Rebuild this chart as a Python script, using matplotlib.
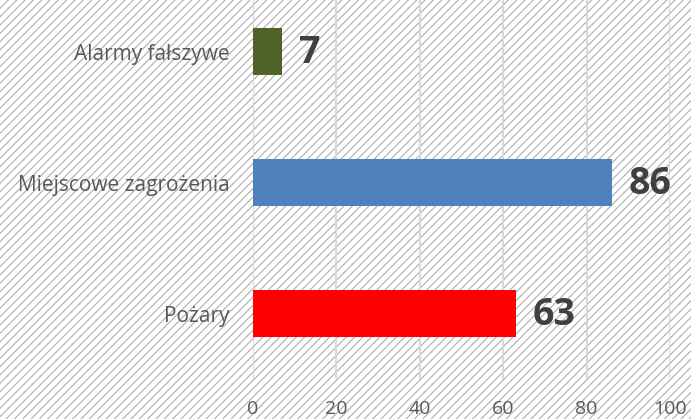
import matplotlib.pyplot as plt
from matplotlib.patches import Rectangle

plt.rcParams.update({
    "font.family": ["Open Sans", "DejaVu Sans"],
    "hatch.linewidth": 0.75,
})

# data
categories = ["Pożary", "Miejscowe zagrożenia", "Alarmy fałszywe"]
values = [63, 86, 7]
colors = ["#FF0000", "#4F81BD", "#4F6228"]
xticks = [0, 20, 40, 60, 80, 100]

text_c = "#595959"
grid_c = "#d9d9d9"

fig = plt.figure(figsize=(6.91, 4.19), dpi=100)

# hatched background over the whole picture
bg = Rectangle((0, 0), 1, 1, transform=fig.transFigure, facecolor="white",
               edgecolor="#a8a8a8", hatch="////", linewidth=0, zorder=0)
fig.add_artist(bg)

ax = fig.add_axes([253 / 691, 40 / 419, 417 / 691, 393 / 419])
ax.set_facecolor("none")

y = range(len(categories))
ax.barh(y, values, height=0.36, color=colors, zorder=3)

for yi, v in zip(y, values):
    ax.annotate(str(v), xy=(v, yi), xytext=(12, -1), textcoords="offset points",
                ha="left", va="center", fontsize=27, fontweight="bold",
                color="#404040", zorder=4)

ax.set_xlim(0, 100)
ax.set_ylim(-0.5, 2.5)
ax.set_xticks(xticks)
ax.set_yticks(list(y))
ax.set_yticklabels(categories)
ax.tick_params(axis="x", length=0, labelsize=14, labelcolor=text_c, pad=15)
ax.tick_params(axis="y", length=0, labelsize=15, labelcolor=text_c, pad=17)

ax.grid(True, axis="x", color=grid_c, linewidth=1.5, zorder=1)
ax.set_axisbelow(True)
for s in ax.spines.values():
    s.set_visible(False)

plt.savefig("out.png", dpi=100)
